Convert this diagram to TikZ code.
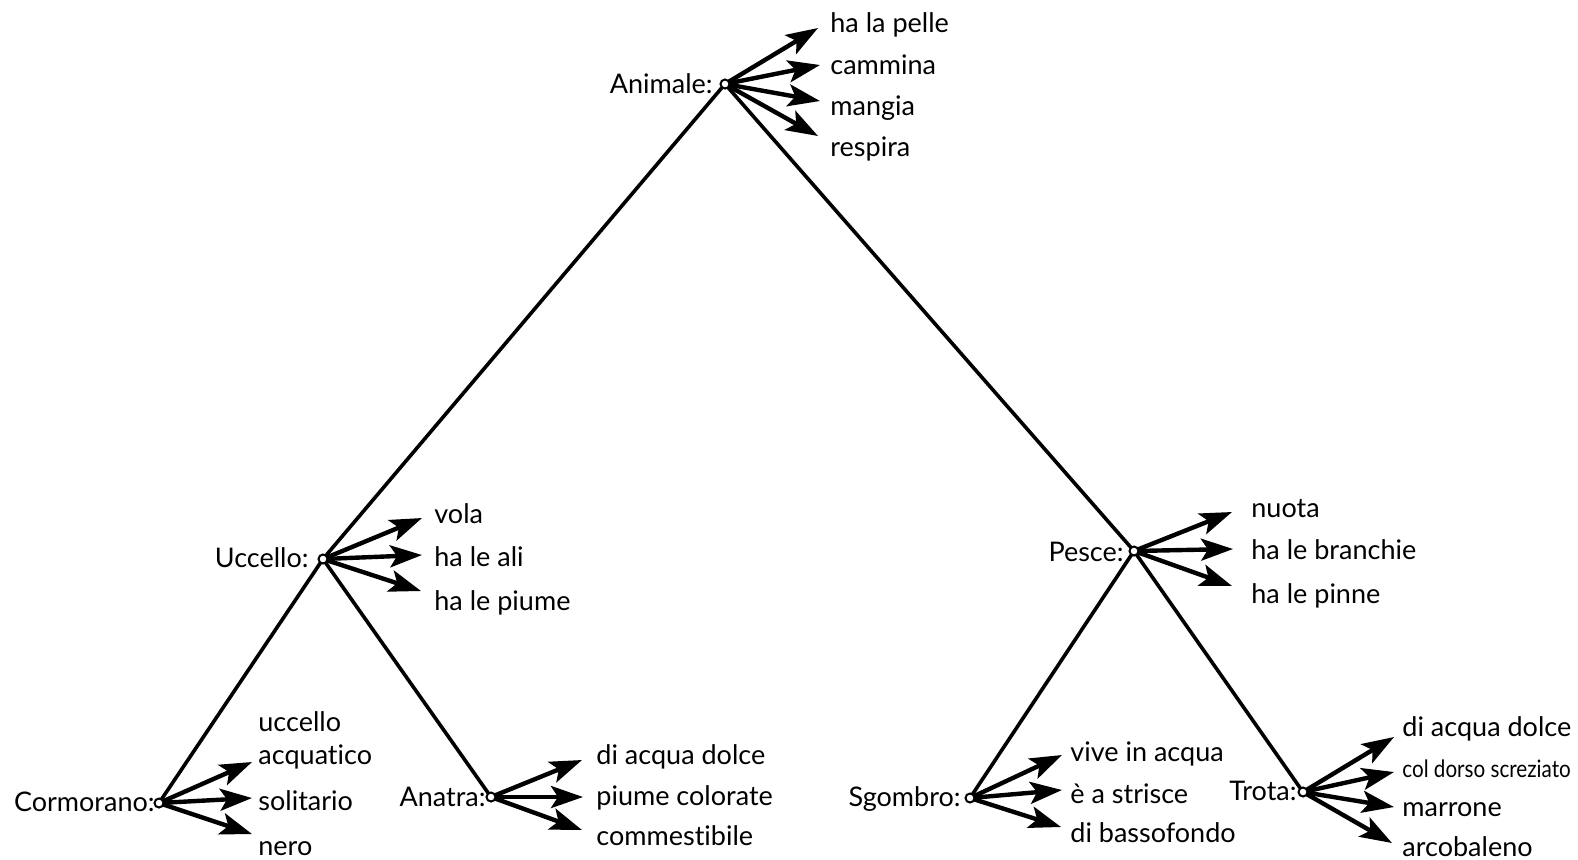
\documentclass[tikz,border=0pt]{standalone}
\usepackage{fontspec}
\setmainfont{Lato}[Ligatures={NoCommon}]
\usetikzlibrary{arrows.meta}
\begin{document}
\begin{tikzpicture}[x=0.5pt,y=-0.5pt,
  dot/.style={circle,draw,line width=1pt,fill=white,inner sep=0pt,minimum size=4.5pt},
  tree/.style={line width=1.8pt},
  prop/.style={-{Stealth[length=16pt,width=11pt,inset=3.5pt]},line width=2.2pt,shorten <=-1pt},
  lbl/.style={anchor=base east,inner sep=0pt,font=\fontsize{13.5}{15}\selectfont},
  ptxt/.style={anchor=base west,inner sep=0pt,font=\fontsize{13.5}{15}\selectfont}]
\useasboundingbox (0,0) rectangle (1578,859);
% nodes
\coordinate (an) at (725,84);
\coordinate (uc) at (323,559);
\coordinate (pe) at (1134,551);
\coordinate (co) at (159,803);
\coordinate (at) at (491,797);
\coordinate (sg) at (970,798);
\coordinate (tr) at (1303,792);
% tree edges
\draw[tree] (an) -- (uc);
\draw[tree] (an) -- (pe);
\draw[tree] (uc) -- (co);
\draw[tree] (uc) -- (at);
\draw[tree] (pe) -- (sg);
\draw[tree] (pe) -- (tr);
% labels
\node[lbl] (lan) at (713,93) {Animale:};
\node[lbl] (luc) at (309,567) {Uccello:};
\node[lbl] (lpe) at (1124,561) {Pesce:};
\node[lbl] (lco) at (155,811) {Cormorano:};
\node[lbl] (lat) at (486,806) {Anatra:};
\node[lbl] (lsg) at (961,806) {Sgombro:};
\node[lbl] (ltr) at (1297,800) {Trota:};
% Animale
\node[ptxt] (a1) at (830,32) {ha la pelle};
\node[ptxt] (a2) at (830,74) {cammina};
\node[ptxt] (a3) at (830,115) {mangia};
\node[ptxt] (a4) at (830,156) {respira};
\coordinate (ta1) at (818,28);
\coordinate (ta2) at (820,65);
\coordinate (ta3) at (820,101);
\coordinate (ta4) at (818,136);
\foreach \t in {ta1,ta2,ta3,ta4} \draw[prop] (an) -- (\t);
% Uccello
\node[ptxt] (u1) at (434,523) {vola};
\node[ptxt] (u2) at (434,566) {ha le ali};
\node[ptxt] (u3) at (434,610) {ha le piume};
\coordinate (tu1) at (422,518);
\coordinate (tu2) at (422,555);
\coordinate (tu3) at (421,591);
\foreach \t in {tu1,tu2,tu3} \draw[prop] (uc) -- (\t);
% Pesce
\node[ptxt] (p1) at (1251,517) {nuota};
\node[ptxt] (p2) at (1251,559) {ha le branchie};
\node[ptxt] (p3) at (1251,603) {ha le pinne};
\coordinate (tp1) at (1232,512);
\coordinate (tp2) at (1233,549);
\coordinate (tp3) at (1232,586);
\foreach \t in {tp1,tp2,tp3} \draw[prop] (pe) -- (\t);
% Cormorano
\node[ptxt] (c0) at (258,731) {uccello};
\node[ptxt] (c1) at (258,764) {acquatico};
\node[ptxt] (c2) at (258,810) {solitario};
\node[ptxt] (c3) at (258,855) {nero};
\coordinate (tc1) at (252,762);
\coordinate (tc2) at (252,798);
\coordinate (tc3) at (252,834);
\foreach \t in {tc1,tc2,tc3} \draw[prop] (co) -- (\t);
% Anatra
\node[ptxt] (n1) at (596,764) {di acqua dolce};
\node[ptxt] (n2) at (596,805) {piume colorate};
\node[ptxt] (n3) at (596,845) {commestibile};
\coordinate (tn1) at (582,760);
\coordinate (tn2) at (583,797);
\coordinate (tn3) at (582,830);
\foreach \t in {tn1,tn2,tn3} \draw[prop] (at) -- (\t);
% Sgombro
\node[ptxt] (s1) at (1070,761) {vive in acqua};
\node[ptxt] (s2) at (1070,803) {è a strisce};
\node[ptxt] (s3) at (1070,842) {di bassofondo};
\coordinate (ts1) at (1062,755);
\coordinate (ts2) at (1062,790);
\coordinate (ts3) at (1061,827);
\foreach \t in {ts1,ts2,ts3} \draw[prop] (sg) -- (\t);
% Trota
\node[ptxt] (r1) at (1402,736) {di acqua dolce};
\node[ptxt,font=\fontsize{12}{14}\selectfont] (r2) at (1402,777) {\scalebox{0.86}[1]{col dorso screziato}};
\node[ptxt] (r3) at (1402,816) {marrone};
\node[ptxt] (r4) at (1402,856) {arcobaleno};
\coordinate (tr1) at (1394,737);
\coordinate (tr2) at (1394,772);
\coordinate (tr3) at (1394,807);
\coordinate (tr4) at (1392,843);
\foreach \t in {tr1,tr2,tr3,tr4} \draw[prop] (tr) -- (\t);
% dots
\foreach \d in {an,uc,pe,co,at,sg,tr} \node[dot] at (\d) {};
\end{tikzpicture}
\end{document}
